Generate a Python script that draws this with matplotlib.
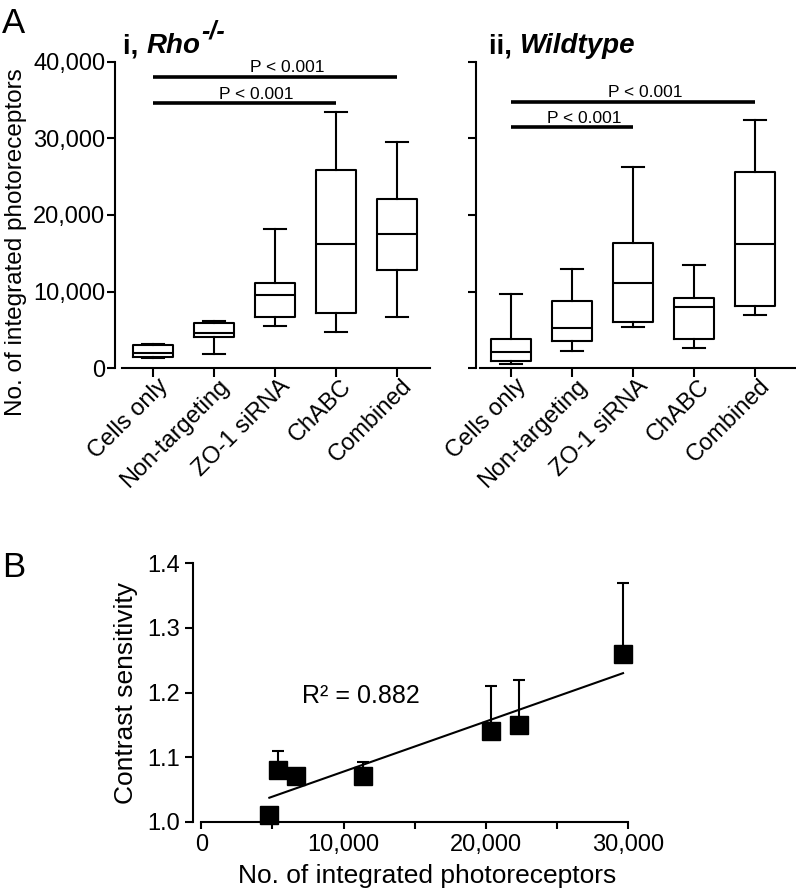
import numpy as np
import matplotlib
matplotlib.use('Agg')
import matplotlib.pyplot as plt
from matplotlib.ticker import MultipleLocator, FuncFormatter
from matplotlib.transforms import ScaledTranslation

plt.rcParams['font.family'] = ['Liberation Sans', 'DejaVu Sans']

# %% data
groups = ['Cells only', 'Non-targeting', 'ZO-1 siRNA', 'ChABC', 'Combined']

# panel A i, Rho-/- : whisker low, Q1, median, Q3, whisker high
rho_low = [1380, 1830, 5560, 4700, 6730]
rho_q1 = [1430, 4130, 6730, 7170, 12820]
rho_med = [1960, 4640, 9560, 16210, 17560]
rho_q3 = [2980, 5950, 11170, 25860, 22120]
rho_high = [3170, 6210, 18130, 33390, 29560]

# panel A ii, wildtype
wt_low = [520, 2260, 5430, 2690, 6950]
wt_q1 = [950, 3560, 6000, 3820, 8170]
wt_med = [2170, 5220, 11170, 7960, 16170]
wt_q3 = [3780, 8820, 16300, 9210, 25640]
wt_high = [9690, 12950, 26300, 13470, 32400]

# significance bars: (from group, to group, height)
rho_sig = [(0, 4, 38000), (0, 3, 34550)]
wt_sig = [(0, 4, 34800), (0, 2, 31450)]
p_label = 'P < 0.001'

# panel B
cells_x = [4780, 5410, 6650, 11380, 20320, 22330, 29630]
sens_y = [1.01, 1.08, 1.07, 1.07, 1.14, 1.15, 1.26]
sens_err = [0.0, 0.03, 0.0, 0.022, 0.07, 0.07, 0.11]
r2_label = 'R\u00b2 = 0.882'

# %% figure in pixel layout
W, H = 796, 893
fig = plt.figure(figsize=(W / 100, H / 100), dpi=100)


def px_axes(x0, x1, y0, y1):
    return fig.add_axes([x0 / W, 1 - y1 / H, (x1 - x0) / W, (y1 - y0) / H])


def box_panel(ax, low, q1, med, q3, high, sig, xlim, show_y):
    stats = [dict(whislo=a, q1=b, med=c, q3=d, whishi=e, fliers=[])
             for a, b, c, d, e in zip(low, q1, med, q3, high)]
    lp = dict(color='black', linewidth=1.5)
    ax.bxp(stats, positions=range(len(groups)), widths=0.67, capwidths=0.36,
           showfliers=False, boxprops=lp, medianprops=lp, whiskerprops=lp,
           capprops=lp)
    ax.set_xlim(*xlim)
    ax.set_ylim(0, 40000)
    for s in ['top', 'right']:
        ax.spines[s].set_visible(False)
    for s in ['left', 'bottom']:
        ax.spines[s].set_linewidth(1.5)
    ax.spines['bottom'].set_bounds(-0.508, xlim[1])
    ax.set_yticks([0, 10000, 20000, 30000, 40000])
    ax.yaxis.set_major_formatter(FuncFormatter(lambda v, p: f'{v:,.0f}'))
    ax.tick_params(axis='y', length=6, width=1.5, labelsize=17, pad=1,
                   labelleft=show_y)
    ax.tick_params(axis='x', length=6.5, width=1.5, labelsize=17, pad=4)
    ax.set_xticks(range(len(groups)))
    ax.set_xticklabels(groups, rotation=45, ha='right', va='center',
                       rotation_mode='anchor')
    shift = ScaledTranslation(12 / 100, 0, fig.dpi_scale_trans)
    for lab in ax.get_xticklabels():
        lab.set_transform(lab.get_transform() + shift)
    for a, b, h in sig:
        ax.plot([a, b], [h, h], color='black', lw=2.6, solid_capstyle='butt',
                clip_on=False)
        ax.text((a + b) / 2 + 0.2, h + 600, p_label, ha='center',
                va='baseline', fontsize=12.5)


ax1 = px_axes(115, 430, 61.7, 368.3)
box_panel(ax1, rho_low, rho_q1, rho_med, rho_q3, rho_high, rho_sig,
          (-0.623, 4.541), True)
ax2 = px_axes(476, 795, 61.7, 368.3)
box_panel(ax2, wt_low, wt_q1, wt_med, wt_q3, wt_high, wt_sig,
          (-0.574, 4.656), False)

fig.text(16 / W, 1 - 242 / H, 'No. of integrated photoreceptors',
         rotation=90, ha='center', va='center', fontsize=17.5)

# panel titles
t1 = fig.text(123 / W, 1 - 53.3 / H, 'i, ', fontsize=20, fontweight='bold',
              va='baseline')
t1b = ax1.annotate('Rho', xy=(1, 0), xycoords=t1, ha='left', va='bottom',
                   fontsize=20, fontweight='bold', fontstyle='italic',
                   annotation_clip=False)
ax1.annotate('-/-', xy=(1.03, 0.62), xycoords=t1b, ha='left', va='bottom',
             fontsize=18, fontweight='bold', fontstyle='italic',
             annotation_clip=False)
t2 = fig.text(489 / W, 1 - 53.3 / H, 'ii, ', fontsize=20, fontweight='bold',
              va='baseline')
ax2.annotate('Wildtype', xy=(1, 0), xycoords=t2, ha='left', va='bottom',
             fontsize=20, fontweight='bold', fontstyle='italic',
             annotation_clip=False)

fig.text(2 / W, 1 - 33 / H, 'A', fontsize=25, va='baseline')
fig.text(2 / W, 1 - 577 / H, 'B', fontsize=25, va='baseline')

# %% panel B
axB = px_axes(192.7, 628.3, 563.3, 821.7)
axB.errorbar(cells_x, sens_y, yerr=[np.zeros(len(sens_err)), sens_err],
             fmt='none', ecolor='black', elinewidth=1.5, capsize=4,
             capthick=1.5, clip_on=False)
slope, icpt = np.polyfit(cells_x, sens_y, 1)
xfit = np.array([min(cells_x), max(cells_x)])
axB.plot(xfit, slope * xfit + icpt, color='black', lw=1.5)
axB.plot(cells_x, sens_y, 's', color='black', ms=13, clip_on=False, zorder=5)
axB.set_xlim(-604, 30000)
axB.set_ylim(1.0, 1.4)
for s in ['top', 'right']:
    axB.spines[s].set_visible(False)
for s in ['left', 'bottom']:
    axB.spines[s].set_linewidth(1.5)
axB.spines['bottom'].set_bounds(0, 30000)
axB.set_yticks([1.0, 1.1, 1.2, 1.3, 1.4])
axB.yaxis.set_major_formatter(FuncFormatter(lambda v, p: f'{v:.1f}'))
axB.xaxis.set_major_locator(MultipleLocator(5000))
axB.xaxis.set_major_formatter(
    FuncFormatter(lambda v, p: f'{v:,.0f}' if v % 10000 == 0 else ''))
axB.tick_params(axis='y', length=6, width=1.5, labelsize=17, pad=3)
axB.tick_params(axis='x', length=5, width=1.5, labelsize=17, pad=4)
axB.text(7050, 1.184, r2_label, fontsize=18, va='baseline')

fig.text(427 / W, 1 - 876 / H, 'No. of integrated photoreceptors',
         ha='center', va='center', fontsize=19)
fig.text(126 / W, 1 - 693 / H, 'Contrast sensitivity', rotation=90,
         ha='center', va='center', fontsize=19)

fig.savefig('out.png', dpi=100)
